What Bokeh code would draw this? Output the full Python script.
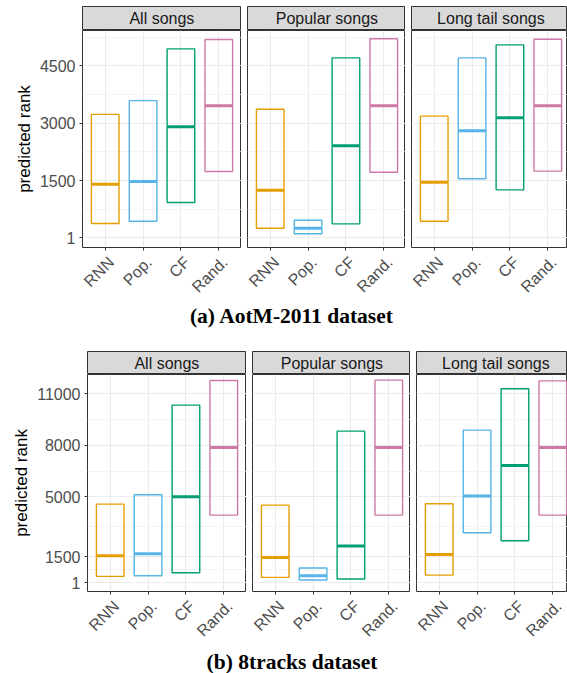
from math import pi
from bokeh.plotting import figure
from bokeh.models import Range1d, FixedTicker, Label, ColumnDataSource
from bokeh.core.properties import value
from bokeh.layouts import column, row
from bokeh.embed import file_html
from bokeh.resources import INLINE

# ---------------- data ----------------
methods = ["RNN", "Pop.", "CF", "Rand."]
method_colors = ["#E69F00", "#56B4E9", "#009E73", "#CC79A7"]
facets = ["All songs", "Popular songs", "Long tail songs"]
caption_a = "(a) AotM-2011 dataset"
caption_b = "(b) 8tracks dataset"
y_title = "predicted rank"

# (a) AotM-2011: lower quartile, median, upper quartile of predicted rank
aotm_all_low = [375, 435, 925, 1735]
aotm_all_med = [1400, 1475, 2905, 3455]
aotm_all_high = [3230, 3590, 4945, 5190]
aotm_pop_low = [250, 105, 365, 1715]
aotm_pop_med = [1245, 250, 2410, 3455]
aotm_pop_high = [3365, 460, 4710, 5210]
aotm_tail_low = [435, 1545, 1255, 1745]
aotm_tail_med = [1455, 2800, 3140, 3455]
aotm_tail_high = [3185, 4710, 5050, 5195]
aotm_ticks = [1, 1500, 3000, 4500]
aotm_minor = [750, 2250, 3750, 5250]
aotm_limits = (-253, 5425)

# (b) 8tracks
tracks_all_low = [365, 400, 575, 3935]
tracks_all_med = [1565, 1685, 5000, 7875]
tracks_all_high = [4575, 5120, 10340, 11775]
tracks_pop_low = [305, 150, 210, 3935]
tracks_pop_med = [1470, 400, 2130, 7875]
tracks_pop_high = [4515, 850, 8825, 11795]
tracks_tail_low = [440, 2905, 2440, 3935]
tracks_tail_med = [1645, 5040, 6825, 7875]
tracks_tail_high = [4595, 8885, 11290, 11755]
tracks_ticks = [1, 1500, 5000, 8000, 11000]
tracks_minor = [750, 3250, 6500, 9500]
tracks_limits = (-516, 12124)

# ---------------- styling ----------------
SANS = "Liberation Sans"
SERIF = "Liberation Serif"
FRAME_H = 217
PX_PER_UNIT = 159 / 4.2
X_START = 0.4
BOX_W = 0.73
TOTAL_W = 567
XS = list(range(1, len(methods) + 1))


def make_panel(low, med, high, limits, ticks, minor, frame_w, border_left, show_y):
    x_end = X_START + frame_w / PX_PER_UNIT
    p = figure(frame_width=frame_w, frame_height=FRAME_H,
               x_range=Range1d(X_START, x_end), y_range=Range1d(*limits),
               output_backend="svg", toolbar_location=None,
               min_border_left=border_left, min_border_right=0,
               min_border_top=0, min_border_bottom=6,
               background_fill_color="white", border_fill_color="white")
    src = ColumnDataSource(dict(
        x=XS,
        left=[x - BOX_W / 2 for x in XS],
        right=[x + BOX_W / 2 for x in XS],
        low=low, med=med, high=high, color=method_colors))
    p.quad(left="left", right="right", bottom="low", top="high", source=src,
           fill_color=None, line_color="color", line_width=1.4)
    p.segment(x0="left", x1="right", y0="med", y1="med", source=src,
              line_color="color", line_width=3)

    p.outline_line_color = "#333333"
    p.outline_line_width = 1

    p.xgrid.ticker = FixedTicker(ticks=XS)
    p.ygrid.ticker = FixedTicker(ticks=ticks, minor_ticks=minor)
    p.xgrid.grid_line_color = "#EBEBEB"
    p.ygrid.grid_line_color = "#EBEBEB"
    p.xgrid.grid_line_width = 1.1
    p.ygrid.grid_line_width = 1.1
    p.ygrid.minor_grid_line_color = "#EFEFEF"
    p.ygrid.minor_grid_line_width = 0.7

    # x axis: tick marks only; the rotated category names are drawn below
    xa = p.xaxis[0]
    xa.ticker = FixedTicker(ticks=XS)
    xa.major_label_text_color = None
    xa.major_label_text_font_size = "1px"
    xa.major_label_standoff = 0
    xa.axis_line_color = None
    xa.major_tick_line_color = "#333333"
    xa.major_tick_out = 3
    xa.major_tick_in = 0
    xa.minor_tick_line_color = None

    ya = p.yaxis[0]
    if show_y:
        ya.ticker = FixedTicker(ticks=ticks, minor_ticks=minor)
        ya.major_label_overrides = {t: str(t) for t in ticks}
        ya.major_label_text_font = SANS
        ya.major_label_text_font_size = "16px"
        ya.major_label_text_color = "#4D4D4D"
        ya.major_label_standoff = 3
        ya.axis_line_color = None
        ya.major_tick_line_color = "#333333"
        ya.major_tick_out = 3
        ya.major_tick_in = 0
        ya.minor_tick_line_color = None
        ya.axis_label = y_title
        ya.axis_label_text_font = SANS
        ya.axis_label_text_font_size = "17px"
        ya.axis_label_text_font_style = "normal"
        ya.axis_label_text_color = "#000000"
        ya.axis_label_standoff = 3
    else:
        ya.visible = False
    return p


def make_labels(panel_left, left, right, h):
    """Rotated category names under a panel, on the same x scale as the panel."""
    lf = figure(frame_width=right - left, frame_height=h,
                x_range=Range1d(X_START + (left - panel_left) / PX_PER_UNIT,
                                X_START + (right - panel_left) / PX_PER_UNIT),
                y_range=Range1d(0, h),
                x_axis_type=None, y_axis_type=None,
                output_backend="svg", toolbar_location=None,
                min_border=0, outline_line_color=None,
                background_fill_color="white", border_fill_color="white")
    src = ColumnDataSource(dict(x=XS, y=[h] * len(XS), name=methods))
    lf.text(x="x", y="y", text="name", source=src, angle=pi / 4,
            text_align="right", text_baseline="top",
            text_font=value(SANS), text_font_size=value("16px"),
            text_color="#4D4D4D")
    return lf


def make_strip(text, frame_w, border_left, h, top):
    s = figure(frame_width=frame_w, frame_height=h,
               x_range=Range1d(0, frame_w), y_range=Range1d(0, h),
               x_axis_type=None, y_axis_type=None,
               output_backend="svg", toolbar_location=None,
               min_border_left=border_left, min_border_right=0,
               min_border_top=top, min_border_bottom=0,
               background_fill_color="#D9D9D9", border_fill_color="white",
               outline_line_color="#333333")
    s.add_layout(Label(x=79.4, y=h / 2, text=text, text_align="center",
                       text_baseline="middle", text_font=SANS,
                       text_font_size="16px", text_color="#1A1A1A"))
    return s


def make_caption(text, w, h, y):
    c = figure(frame_width=w, frame_height=h,
               x_range=Range1d(0, w), y_range=Range1d(0, h),
               x_axis_type=None, y_axis_type=None,
               output_backend="svg", toolbar_location=None,
               min_border=0, outline_line_color=None,
               background_fill_color="white", border_fill_color="white")
    c.add_layout(Label(x=291.5, y=y, text=text, text_align="center",
                       text_baseline="middle", text_font=SERIF,
                       text_font_style="bold", text_font_size="21.5px",
                       text_color="#000000"))
    return c


# ---- (a) AotM-2011 ----
a_frames = [159, 158, 156]
a_borders = [82, 6, 6]
a_panel_left = [82, 247, 411]
a_label_cols = [(0, 236), (236, 400), (400, TOTAL_W)]
a_data = [(aotm_all_low, aotm_all_med, aotm_all_high),
          (aotm_pop_low, aotm_pop_med, aotm_pop_high),
          (aotm_tail_low, aotm_tail_med, aotm_tail_high)]
a_strips = [make_strip(facets[i], a_frames[i], a_borders[i], 24, 6) for i in range(3)]
a_panels = [make_panel(*a_data[i], aotm_limits, aotm_ticks, aotm_minor,
                       a_frames[i], a_borders[i], i == 0) for i in range(3)]
a_labels = [make_labels(a_panel_left[i], *a_label_cols[i], 45) for i in range(3)]
cap_a = make_caption(caption_a, TOTAL_W, 53, 36)

# ---- (b) 8tracks ----
b_frames = [159, 158, 151]
b_borders = [87, 6, 6]
b_panel_left = [87, 252, 416]
b_label_cols = [(0, 241), (241, 405), (405, TOTAL_W)]
b_data = [(tracks_all_low, tracks_all_med, tracks_all_high),
          (tracks_pop_low, tracks_pop_med, tracks_pop_high),
          (tracks_tail_low, tracks_tail_med, tracks_tail_high)]
b_strips = [make_strip(facets[i], b_frames[i], b_borders[i], 23, 0) for i in range(3)]
b_panels = [make_panel(*b_data[i], tracks_limits, tracks_ticks, tracks_minor,
                       b_frames[i], b_borders[i], i == 0) for i in range(3)]
b_labels = [make_labels(b_panel_left[i], *b_label_cols[i], 42) for i in range(3)]
cap_b = make_caption(caption_b, TOTAL_W, 34, 12)

layout = column(row(*a_strips), row(*a_panels), row(*a_labels), cap_a,
                row(*b_strips), row(*b_panels), row(*b_labels), cap_b)

open("out.html", "w").write(file_html(layout, INLINE))
